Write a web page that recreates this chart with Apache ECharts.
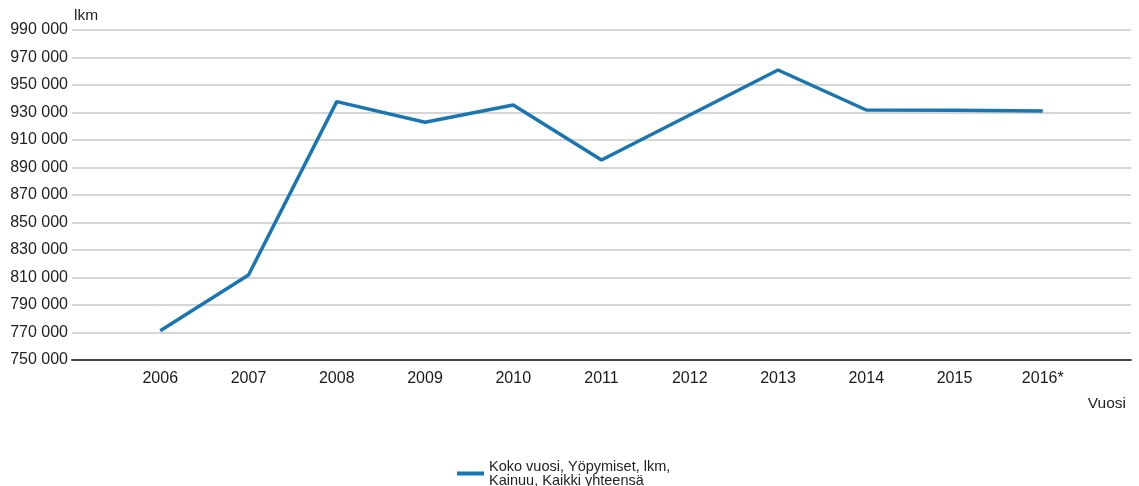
<!DOCTYPE html>
<html>
<head>
<meta charset="utf-8">
<script src="https://cdn.jsdelivr.net/npm/echarts@6/dist/echarts.min.js"></script>
<style>html,body{margin:0;padding:0;background:#fff;}#c{width:1139px;height:486px;}</style>
</head>
<body>
<div id="c"></div>
<script>
const years = ['2006','2007','2008','2009','2010','2011','2012','2013','2014','2015','2016*'];
const values = [771300, 811800, 937900, 922900, 935500, 895500, 928200, 960900, 931800, 931700, 931100];
const seriesName = 'Koko vuosi, Yöpymiset, lkm,\nKainuu, Kaikki yhteensä';
const yMin = 750000, yMax = 990000, yStep = 20000;

// pad categories by half a slot on each side (axis spans 12 slots)
const cats = [''].concat(years, ['']);
const data = [null].concat(values, [null]);

const chart = echarts.init(document.getElementById('c'));
const font = 'Liberation Sans, Arial, sans-serif';
chart.setOption({
  animation: false,
  grid: {left: 72, right: 8, top: 30, bottom: 126, containLabel: false},
  xAxis: {
    type: 'category', data: cats, boundaryGap: false,
    name: 'Vuosi', nameLocation: 'end', nameGap: -5,
    nameTextStyle: {color: '#222', fontSize: 15.5, fontFamily: font, align: 'right', verticalAlign: 'top', padding: [36, 0, 0, 0]},
    axisLine: {show: true, lineStyle: {color: '#444', width: 2}},
    axisTick: {show: false},
    axisLabel: {color: '#1a1a1a', fontSize: 16, fontFamily: font, margin: 11, interval: 0},
    splitLine: {show: false}
  },
  yAxis: {
    type: 'value', min: yMin, max: yMax, interval: yStep,
    name: 'lkm', nameLocation: 'end', nameGap: 6,
    nameTextStyle: {color: '#222', fontSize: 15.5, fontFamily: font, align: 'left', padding: [0, 0, 0, 2]},
    axisLine: {show: false}, axisTick: {show: false},
    axisLabel: {color: '#222', fontSize: 16, fontFamily: font, margin: 4,
      formatter: v => String(v).replace(/\B(?=(\d{3})+(?!\d))/g, ' ')},
    splitLine: {lineStyle: {color: '#c8c8c8', width: 1.5}}
  },
  legend: {
    left: 452, top: 454, icon: 'rect', itemWidth: 27, itemHeight: 4, itemGap: 10,
    textStyle: {color: '#222', fontSize: 14.5, fontFamily: font, lineHeight: 14},
    data: [seriesName]
  },
  series: [{
    name: seriesName, type: 'line', data: data, connectNulls: false,
    showSymbol: false, symbol: 'none',
    lineStyle: {color: '#1a76b3', width: 3.5},
    itemStyle: {color: '#1a76b3'}
  }]
});
</script>
</body>
</html>
